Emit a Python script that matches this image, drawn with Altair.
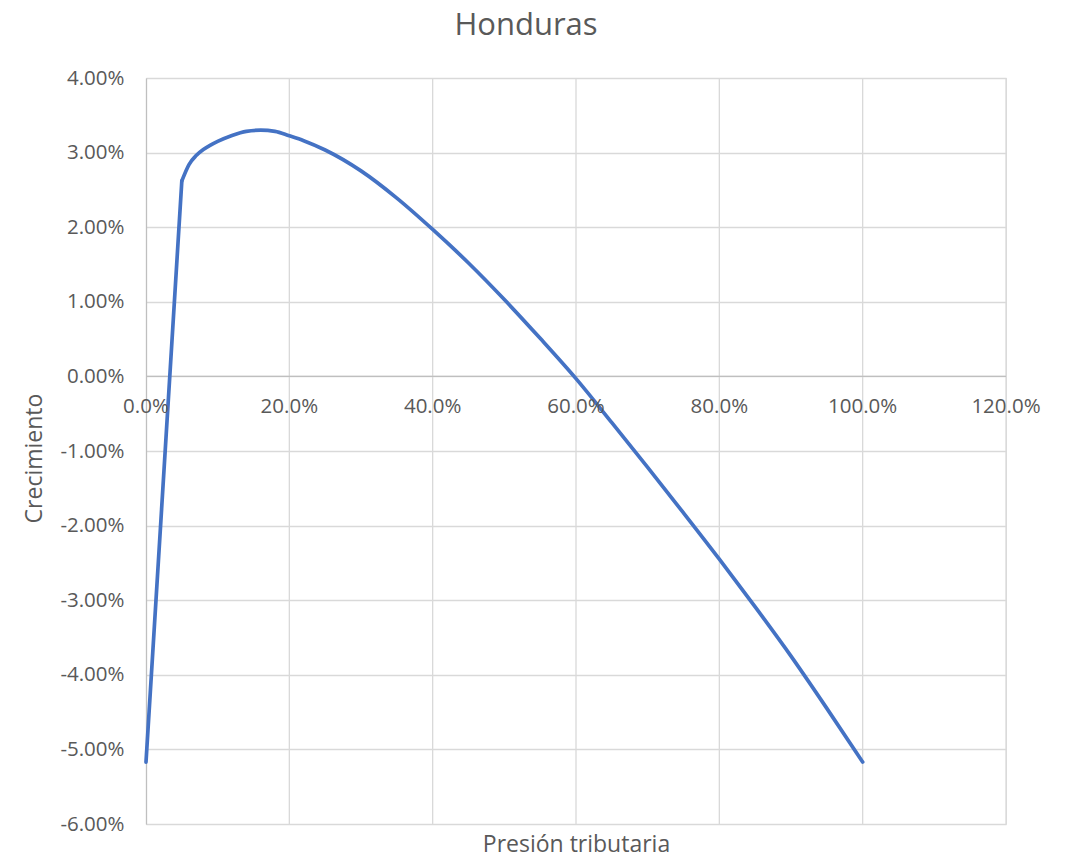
import altair as alt
import pandas as pd

# Data
presion = [0.00, 0.05, 0.06, 0.07, 0.08, 0.09, 0.10, 0.12, 0.14, 0.16, 0.18, 0.20,
           0.22, 0.25, 0.30, 0.35, 0.40, 0.45, 0.50, 0.55, 0.60, 0.65, 0.70, 0.75,
           0.80, 0.85, 0.90, 0.95, 1.00]
crecimiento = [-0.0517, 0.0262, 0.0284, 0.0296, 0.0304, 0.0310, 0.0315, 0.0323,
               0.03285, 0.0330, 0.03285, 0.03225, 0.0316, 0.03035, 0.02755, 0.0239,
               0.0197, 0.0152, 0.0103, 0.0051, -0.0003, -0.0062, -0.0122, -0.0183,
               -0.0245, -0.0309, -0.0375, -0.0445, -0.0517]
x_grid = [0.2, 0.4, 0.6, 0.8, 1.0, 1.2]
y_ticks = [0.04, 0.03, 0.02, 0.01, 0.0, -0.01, -0.02, -0.03, -0.04, -0.05, -0.06]
x_ticks = [0.0, 0.2, 0.4, 0.6, 0.8, 1.0, 1.2]

df = pd.DataFrame({"presion": presion, "crecimiento": crecimiento})
grid_df = pd.DataFrame({"presion": x_grid})
xlab_df = pd.DataFrame({"presion": x_ticks, "crecimiento": [0.0] * len(x_ticks)})
zero_df = pd.DataFrame({"crecimiento": [0.0]})

W, H = 860, 746
FONT = "Open Sans"
TXT = "#595959"
LABEL_SIZE = 20.5
TITLE_SIZE = 23

x_scale = alt.Scale(domain=[0, 1.2], nice=False, zero=False)
y_scale = alt.Scale(domain=[-0.06, 0.04], nice=False, zero=False)

x_axis = alt.Axis(
    title="Presión tributaria",
    labels=False,
    grid=False,
    ticks=False,
    domain=False,
    titleFont=FONT,
    titleFontSize=TITLE_SIZE,
    titleFontWeight="normal",
    titleColor=TXT,
    titleY=27,
    titleBaseline="alphabetic",
)

y_axis = alt.Axis(
    title="Crecimiento",
    values=y_ticks,
    format=".2%",
    labelExpr="replace(datum.label, '\u2212', '-')",
    grid=True,
    gridColor="#d9d9d9",
    gridWidth=1.3,
    ticks=False,
    domain=True,
    domainColor="#bfbfbf",
    domainWidth=1.3,
    labelPadding=22,
    labelFont=FONT,
    labelFontSize=LABEL_SIZE,
    labelColor=TXT,
    titleFont=FONT,
    titleFontSize=TITLE_SIZE,
    titleFontWeight="normal",
    titleColor=TXT,
    titleAngle=270,
    titleX=-112,
    titleY=380,
    titleAlign="center",
    titleBaseline="middle",
)

X = alt.X("presion:Q", scale=x_scale, axis=x_axis, title="Presión tributaria")
Y = alt.Y("crecimiento:Q", scale=y_scale, axis=y_axis, title="Crecimiento")

grid = alt.Chart(grid_df).mark_rule(color="#d9d9d9", strokeWidth=1.3).encode(x=X)

zero_line = alt.Chart(zero_df).mark_rule(color="#bfbfbf", strokeWidth=1.3).encode(y=Y)

line_start = (
    alt.Chart(df)
    .transform_filter("datum.presion <= 0.05")
    .mark_line(color="#4472C4", strokeWidth=3.7, strokeCap="round", strokeJoin="round")
    .encode(x=X, y=Y, order="presion:Q")
)

line_rest = (
    alt.Chart(df)
    .transform_filter("datum.presion >= 0.05")
    .mark_line(color="#4472C4", strokeWidth=3.7, strokeCap="round", strokeJoin="round",
               interpolate="monotone")
    .encode(x=X, y=Y, order="presion:Q")
)

xlabels = (
    alt.Chart(xlab_df)
    .transform_calculate(lab="format(datum.presion, '.1%')")
    .mark_text(font=FONT, fontSize=LABEL_SIZE, color=TXT, align="center", baseline="middle", dy=31)
    .encode(x=X, y=Y, text="lab:N")
)

chart = (
    alt.layer(grid, zero_line, line_start, line_rest, xlabels)
    .properties(
        width=W,
        height=H,
        autosize=alt.AutoSizeParams(type="none"),
        padding={"left": 138, "top": 70, "right": 40, "bottom": 33},
        title=alt.TitleParams(
            "Honduras",
            font=FONT,
            fontSize=31,
            fontWeight="normal",
            color=TXT,
            anchor="middle",
            frame="group",
            dx=-50,
            offset=26,
        ),
    )
    .configure_view(strokeWidth=0)
    .configure(background="white")
)

chart.save("out.html", embed_options={"renderer": "svg", "actions": False})
